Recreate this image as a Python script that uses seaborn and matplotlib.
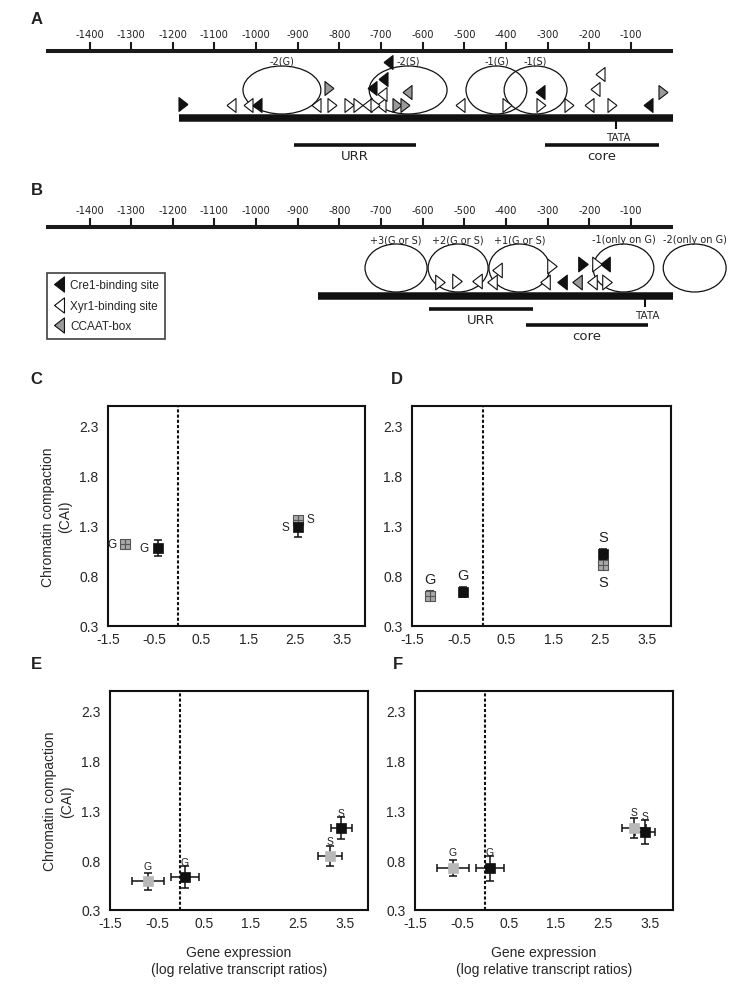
import numpy as np
import pandas as pd
import matplotlib
matplotlib.use("Agg")
import matplotlib.pyplot as plt
from matplotlib.patches import Ellipse
from matplotlib.lines import Line2D
import seaborn as sns

# ---------------- promoter maps (bp upstream of ATG) ----------------
ruler_ticks = [-1400, -1300, -1200, -1100, -1000, -900, -800, -700,
               -600, -500, -400, -300, -200, -100]

# panel A: binding sites
a_site_bp = [-1175, -1060, -1019, -998, -856, -825, -818, -777, -755, -734,
             -714, -700, -722, -695, -683, -698, -662, -642, -638, -510,
             -398, -318, -316, -249, -201, -145, -186, -174, -59, -23]
a_site_dir = ['>', '<', '<', '<', '<', '>', '>', '>', '>', '<',
              '>', '<', '<', '<', '<', '<', '>', '>', '<', '<',
              '>', '<', '>', '>', '<', '>', '<', '<', '<', '>']
a_site_kind = ['Cre1', 'Xyr1', 'Xyr1', 'Cre1', 'Xyr1', 'CCAAT', 'Xyr1', 'Xyr1', 'Xyr1', 'Xyr1',
               'Xyr1', 'Xyr1', 'Cre1', 'Cre1', 'Cre1', 'Xyr1', 'CCAAT', 'CCAAT', 'CCAAT', 'Xyr1',
               'Xyr1', 'Cre1', 'Xyr1', 'Xyr1', 'Xyr1', 'Xyr1', 'Xyr1', 'Xyr1', 'Cre1', 'CCAAT']
a_site_lift = [14, 13, 13, 13, 13, 30, 13, 13, 13, 13,
               13, 13, 30, 39, 56, 24, 13, 13, 26, 13,
               13, 26, 13, 13, 13, 13, 29, 44, 13, 26]
a_nuc_label = ['-2(G)', '-2(S)', '-1(G)', '-1(S)']
a_nuc_center = [-938, -635, -423, -329]
a_nuc_width = [187, 187, 146, 151]
a_promoter = [-1185, 0]
a_tata = -136
a_urr = [-910, -615]
a_core = [-307, -33]

# panel B: binding sites
b_site_bp = [-558, -518, -470, -434, -422, -290, -306, -266, -230, -215,
             -181, -162, -193, -157]
b_site_dir = ['>', '>', '<', '<', '<', '>', '<', '<', '<', '>',
              '>', '<', '<', '>']
b_site_kind = ['Xyr1', 'Xyr1', 'Xyr1', 'Xyr1', 'Xyr1', 'Xyr1', 'Xyr1', 'Cre1', 'CCAAT', 'Cre1',
               'Xyr1', 'Cre1', 'Xyr1', 'Xyr1']
b_site_lift = [14, 15, 15, 14, 26, 30, 14, 14, 14, 32,
               32, 32, 14, 14]
b_nuc_label = ['+3(G or S)', '+2(G or S)', '+1(G or S)', '-1(only on G)', '-2(only on G)']
b_nuc_center = [-664, -515, -368, -118, 53]
b_nuc_width = [149, 144, 146, 146, 151]
b_promoter = [-851, 0]
b_tata = -66
b_urr = [-585, -335]
b_core = [-352, -59]

legend_labels = ['Cre1-binding site', 'Xyr1-binding site', 'CCAAT-box']

# ---------------- chromatin compaction vs expression ----------------
sc_panel = ['C'] * 4 + ['D'] * 4 + ['E'] * 4 + ['F'] * 4
sc_series = ['gray', 'black', 'gray', 'black'] * 4
sc_cond = ['G', 'G', 'S', 'S'] * 4
sc_expr = [-1.14, -0.43, 2.57, 2.57,
           -1.12, -0.42, 2.56, 2.56,
           -0.69, 0.10, 3.19, 3.43,
           -0.69, 0.10, 3.17, 3.40]
sc_cai = [1.12, 1.08, 1.36, 1.29,
          0.60, 0.64, 0.91, 1.02,
          0.59, 0.63, 0.84, 1.12,
          0.72, 0.72, 1.12, 1.08]
sc_expr_err = [0.0, 0.0, 0.0, 0.0,
               0.05, 0.0, 0.05, 0.0,
               0.35, 0.29, 0.25, 0.22,
               0.34, 0.29, 0.26, 0.21]
sc_cai_err = [0.0, 0.08, 0.03, 0.10,
              0.05, 0.05, 0.05, 0.05,
              0.085, 0.11, 0.10, 0.11,
              0.08, 0.125, 0.10, 0.12]

x_ticks = [-1.5, -0.5, 0.5, 1.5, 2.5, 3.5]
y_ticks = [0.3, 0.8, 1.3, 1.8, 2.3]

df = pd.DataFrame({'panel': sc_panel, 'series': sc_series, 'cond': sc_cond,
                   'expr': sc_expr, 'cai': sc_cai,
                   'expr_err': sc_expr_err, 'cai_err': sc_cai_err})

sns.set_style("white")
plt.rcParams['font.family'] = ['DejaVu Sans']
ARIAL = ['Liberation Sans', 'DejaVu Sans']

W, H = 738, 987
fig = plt.figure(figsize=(W / 100, H / 100), dpi=100)

PX_PER_BP = 0.4165
X0 = -1400 - 89.5 / PX_PER_BP
X1 = -1400 + (W - 89.5) / PX_PER_BP

kind_face = {'Cre1': '#111111', 'Xyr1': 'white', 'CCAAT': '#9a9a9a'}
tri_left = [(-0.65, 0), (0.65, 1), (0.65, -1), (-0.65, 0)]
tri_right = [(0.65, 0), (-0.65, 1), (-0.65, -1), (0.65, 0)]


def draw_map(ax, y_ruler, y_bar, promoter, tata, urr, y_urr, core, y_core,
             nuc_label, nuc_center, nuc_width, bp, dirs, kinds, lifts, tri_s):
    ax.set_xlim(X0, X1)
    ax.axis('off')
    # ruler
    ax.plot([-1505, 0], [y_ruler, y_ruler], color='#1a1a1a', lw=2.9, solid_capstyle='butt')
    ax.vlines(ruler_ticks, y_ruler - 9, y_ruler, color='#1a1a1a', lw=1.5)
    for t in ruler_ticks:
        ax.text(t, y_ruler - 17, str(t), ha='center', va='center', fontsize=7.2, color='#222')
    # promoter
    ax.plot(promoter, [y_bar, y_bar], color='#111', lw=5.4, solid_capstyle='butt', zorder=2)
    ax.vlines([tata], y_bar, y_bar + 11, color='#111', lw=1.5)
    ax.text(tata + 5, y_bar + 19, 'TATA', ha='center', va='center', fontsize=7.5)
    ax.plot(urr, [y_urr, y_urr], color='#111', lw=2.6, solid_capstyle='butt')
    ax.text(np.mean(urr), y_urr + 11, 'URR', ha='center', va='center', fontsize=9.5)
    ax.plot(core, [y_core, y_core], color='#111', lw=2.6, solid_capstyle='butt')
    ax.text(np.mean(core), y_core + 11, 'core', ha='center', va='center', fontsize=9.5)
    # nucleosomes
    for lab, c, w in zip(nuc_label, nuc_center, nuc_width):
        ax.add_patch(Ellipse((c, y_bar - 28), w, 48, fill=False, ec='#111', lw=0.9, zorder=3))
        ax.text(c, y_bar - 57, lab, ha='center', va='center', fontsize=7, color='#222')
    # binding sites
    sites = pd.DataFrame({'bp': bp, 'dir': dirs, 'kind': kinds,
                          'y': [y_bar - l for l in lifts]})
    for (kind, d), grp in sites.groupby(['kind', 'dir']):
        sns.scatterplot(data=grp, x='bp', y='y', ax=ax,
                        marker=tri_left if d == '<' else tri_right,
                        s=tri_s, color=kind_face[kind], edgecolor='#111',
                        linewidth=0.8, legend=False, zorder=4)
    ax.set_xlabel('')
    ax.set_ylabel('')


axA = fig.add_axes([0, 1 - 175 / H, 1, 175 / H])
axA.set_ylim(175, 0)
draw_map(axA, 52, 119, a_promoter, a_tata, a_urr, 146, a_core, 146,
         a_nuc_label, a_nuc_center, a_nuc_width,
         a_site_bp, a_site_dir, a_site_kind, a_site_lift, 100)
axA.set_ylim(175, 0)

axB = fig.add_axes([0, 1 - 345 / H, 1, 170 / H])
draw_map(axB, 228, 297, b_promoter, b_tata, b_urr, 310, b_core, 326,
         b_nuc_label, b_nuc_center, b_nuc_width,
         b_site_bp, b_site_dir, b_site_kind, b_site_lift, 112)
axB.set_ylim(345, 175)

handles = [Line2D([0], [0], marker=tri_left, linestyle='', markersize=11,
                  markerfacecolor=kind_face[k], markeredgecolor='#111', markeredgewidth=0.8)
           for k in ['Cre1', 'Xyr1', 'CCAAT']]
leg = fig.legend(handles, legend_labels, loc='upper left',
                 bbox_to_anchor=(47 / W, 1 - 274 / H), frameon=True, fancybox=False,
                 edgecolor='#111', prop={'family': ARIAL, 'size': 8.5},
                 handlelength=0.9, handletextpad=0.5, borderpad=0.55,
                 labelspacing=0.7, borderaxespad=0)
leg.get_frame().set_linewidth(1.2)

# ---------------- scatter panels ----------------
boxes = {'C': (108, 407, 365, 627), 'D': (412, 407, 671, 627),
         'E': (110, 692, 368, 911), 'F': (415, 692, 673, 911)}
label_size = {'C': 8.5, 'D': 10.5, 'E': 7.5, 'F': 7.5}
label_off = {'C': {('gray', 'G'): (-9, 0), ('black', 'G'): (-10, 0),
                   ('gray', 'S'): (9, 1), ('black', 'S'): (-9, 0)},
             'D': {('gray', 'G'): (0, 12), ('black', 'G'): (0, 12),
                   ('gray', 'S'): (0, -12), ('black', 'S'): (0, 12)},
             'E': {k: (0, 11) for k in [('gray', 'G'), ('black', 'G'), ('gray', 'S'), ('black', 'S')]},
             'F': {k: (0, 11.5) for k in [('gray', 'G'), ('black', 'G'), ('gray', 'S'), ('black', 'S')]}}

for p, (l, t, r, b) in boxes.items():
    ax = fig.add_axes([l / W, 1 - b / H, (r - l) / W, (b - t) / H])
    sub = df[df['panel'] == p]
    ax.axvline(0, color='#111', lw=1.5, ls=(0, (1.5, 1)), zorder=1)
    for _, row in sub.iterrows():
        if row['cai_err'] > 0:
            ax.errorbar(row['expr'], row['cai'], yerr=row['cai_err'], fmt='none',
                        ecolor='#111', elinewidth=1.1, capsize=3, capthick=1.1, zorder=2)
        if row['expr_err'] > 0:
            ax.errorbar(row['expr'], row['cai'], xerr=row['expr_err'], fmt='none',
                        ecolor='#111', elinewidth=1.1, capsize=3, capthick=1.1, zorder=2)
    gray = sub[sub['series'] == 'gray']
    black = sub[sub['series'] == 'black']
    if p in ('C', 'D'):
        sns.scatterplot(data=gray, x='expr', y='cai', ax=ax, marker='s', s=45,
                        color='#a8a8a8', edgecolor='#555', linewidth=0.8, legend=False, zorder=3)
        ax.scatter(gray['expr'], gray['cai'], marker='+', s=45, color='#555', lw=0.8, zorder=4)
    else:
        sns.scatterplot(data=gray, x='expr', y='cai', ax=ax, marker='s', s=55,
                        color='#b8b8b8', edgecolor='#b8b8b8', linewidth=0.5, legend=False, zorder=3)
    sns.scatterplot(data=black, x='expr', y='cai', ax=ax, marker='s', s=50,
                    color='#111', edgecolor='#111', linewidth=0.5, legend=False, zorder=5)
    for _, row in sub.iterrows():
        ax.annotate(row['cond'], (row['expr'], row['cai']),
                    xytext=label_off[p][(row['series'], row['cond'])], textcoords='offset points',
                    ha='center', va='center', fontsize=label_size[p], family=ARIAL, color='#222')
    ax.set_xlim(-1.5, 4.0)
    ax.set_ylim(0.3, 2.5)
    ax.set_xticks(x_ticks)
    ax.set_xticklabels([f'{v:.1f}' for v in x_ticks], family=ARIAL, fontsize=10)
    ax.set_yticks(y_ticks)
    ax.set_yticklabels([f'{v:.1f}' for v in y_ticks], family=ARIAL, fontsize=10)
    ax.tick_params(length=0, pad=4)
    ax.tick_params(axis='y', pad=7)
    for s in ax.spines.values():
        s.set_linewidth(1.5)
        s.set_color('#111')
        s.set_visible(True)
    ax.set_xlabel('')
    ax.set_ylabel('')
    if p in ('C', 'E'):
        ax.set_ylabel('Chromatin compaction\n(CAI)', family=ARIAL, fontsize=10, labelpad=5,
                      linespacing=1.25)
    if p in ('E', 'F'):
        ax.set_xlabel('Gene expression\n(log relative transcript ratios)', family=ARIAL,
                      fontsize=10, labelpad=11, linespacing=1.3)

for lab, (x, y) in {'A': (37, 20), 'B': (37, 191), 'C': (36, 380), 'D': (397, 380),
                    'E': (36, 665), 'F': (398, 665)}.items():
    fig.text(x / W, 1 - y / H, lab, ha='center', va='center', fontsize=12,
             fontweight='bold', family=ARIAL, color='#222')

fig.savefig('out.png', dpi=100)
